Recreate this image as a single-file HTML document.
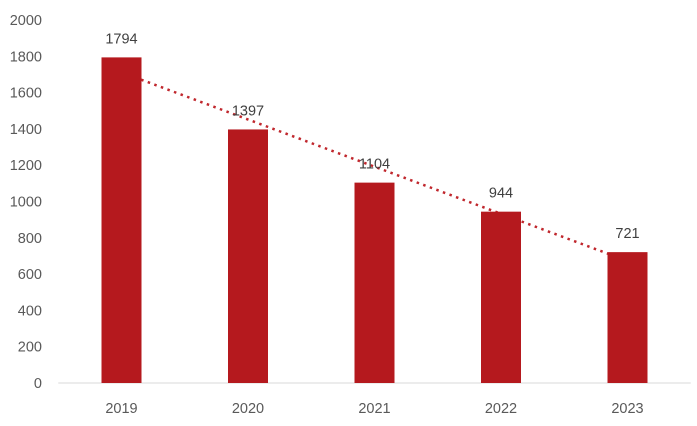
<!DOCTYPE html>
<html><head><meta charset="utf-8"><style>
html,body{margin:0;padding:0;background:#fff;}
svg{display:block;font-family:"Liberation Sans",sans-serif;}
</style></head><body>
<svg id="chart" width="697" height="426"></svg>
<script>
const categories = ["2019","2020","2021","2022","2023"];
const values = [1794,1397,1104,944,721];
const yTicks = [0,200,400,600,800,1000,1200,1400,1600,1800,2000];
const NS="http://www.w3.org/2000/svg";
const svg=document.getElementById('chart');
const left=58.25, right=690.75, y0=383, yMax=2000, pxPer=363/2000;
const bw=(right-left)/categories.length, barW=40;
const X=i=>left+bw*(i+0.5);
const Y=v=>y0-v*pxPer;
function mk(t,a,txt){const e=document.createElementNS(NS,t);for(const k in a)e.setAttribute(k,a[k]);if(txt!=null)e.textContent=txt;svg.appendChild(e);return e;}
yTicks.forEach(v=>{
  const e=mk('text',{x:42,y:Y(v)+5,'text-anchor':'end','font-size':14.5,fill:'#595959'},String(v));
  
  
});
const ax=mk('line',{x1:left,x2:right,y1:y0,y2:y0,stroke:'#d9d9d9','stroke-width':1});


// linear trendline
const n=values.length;let mx=0,my=0;values.forEach((v,i)=>{mx+=i;my+=v;});mx/=n;my/=n;
let sxy=0,sxx=0;values.forEach((v,i)=>{sxy+=(i-mx)*(v-my);sxx+=(i-mx)*(i-mx);});
const slope=sxy/sxx, icpt=my-slope*mx;
const tl=mk('line',{x1:X(0),y1:Y(icpt),x2:X(n-1),y2:Y(icpt+slope*(n-1)),stroke:'#C0272D','stroke-width':2.5,'stroke-dasharray':'2.5 4.5'});


categories.forEach((c,i)=>{
  const v=values[i];
  const r=mk('rect',{x:X(i)-barW/2,y:Y(v),width:barW,height:v*pxPer,fill:'#B5191E'});
  
  
  const l=mk('text',{x:X(i),y:Y(v)-14,'text-anchor':'middle','font-size':14.5,fill:'#404040'},String(v));
  
  
  const t=mk('text',{x:X(i),y:413,'text-anchor':'middle','font-size':14.5,fill:'#595959'},c);
  
  
});
</script>
</body></html>
